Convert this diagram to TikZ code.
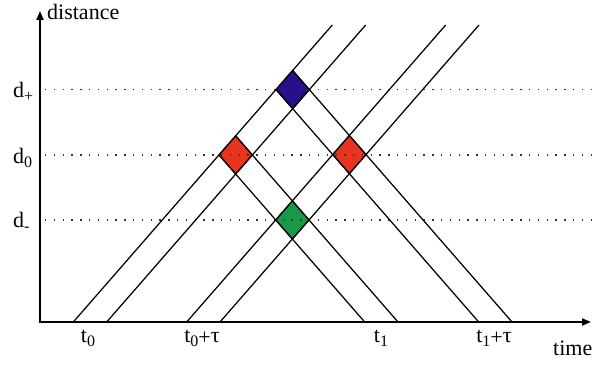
\documentclass[tikz,border=0pt]{standalone}
\usepackage{fontspec}
\setmainfont{Liberation Serif}
\usetikzlibrary{arrows.meta}
\definecolor{cellblue}{HTML}{2B0F8A}
\definecolor{cellred}{HTML}{E8341F}
\definecolor{cellgreen}{HTML}{169A48}
\newcommand{\lowsub}[1]{\raisebox{-4pt}{\fontsize{16}{16}\selectfont #1}}
\begin{document}
\begin{tikzpicture}[x=1pt,y=1pt,
  font=\fontsize{22}{24}\selectfont,
  ray/.style={line width=1.25pt, black},
  axis/.style={line width=1.9pt, {Triangle[length=9pt,width=7pt]}-{Triangle[length=9pt,width=7pt]}},
  level/.style={line width=1.4pt, dash pattern=on 1.4pt off 7.4pt, black!80},
  cell/.style={draw=black, line width=1.1pt},
  lbl/.style={inner sep=0pt}]
\useasboundingbox (0,0) rectangle (593,367);

% rising pulse lines (bases) and falling lines (bases)
\foreach \i/\a in {1/73.3,2/106.7,3/186.7,4/220}{
  \coordinate (r\i b) at (\a,45);
  \coordinate (r\i t) at ({\a+259},342);
}
\foreach \j/\b in {1/364.7,2/398,3/478.7,4/512}{
  \coordinate (f\j b) at (\b,45);
}
\foreach \i/\a in {1/73.3,2/106.7,3/186.7,4/220}{
  \foreach \j/\b in {1/364.7,2/398,3/478.7,4/512}{
    \coordinate (p\i\j) at ({(\a+\b)/2},{45+1.1467*(\b-\a)/2});
  }
}

% coloured cells
\fill[cellred]   (p11) -- (p12) -- (p22) -- (p21) -- cycle;
\fill[cellblue]  (p13) -- (p14) -- (p24) -- (p23) -- cycle;
\fill[cellred]   (p33) -- (p34) -- (p44) -- (p43) -- cycle;
\fill[cellgreen] (p31) -- (p32) -- (p42) -- (p41) -- cycle;

% dotted levels
\coordinate (lp) at (45,277.4);
\coordinate (l0) at (45,212.1);
\coordinate (lm) at (45,147.1);
\foreach \c in {lp,l0,lm}{
  \draw[level] (\c) -- (\c -| 593,0);
}

% lines
\foreach \i in {1,2,3,4}{
  \draw[ray] (r\i b) -- (r\i t);
  \draw[ray] (p1\i) -- (f\i b);
}
\draw[cell] (p11) -- (p12) -- (p22) -- (p21) -- cycle;
\draw[cell] (p13) -- (p14) -- (p24) -- (p23) -- cycle;
\draw[cell] (p33) -- (p34) -- (p44) -- (p43) -- cycle;
\draw[cell] (p31) -- (p32) -- (p42) -- (p41) -- cycle;

% axes
\draw[axis] (40,356) -- (40,45) -- (591,45);

% labels
\node[lbl, anchor=base west] (dist) at (47,347) {distance};
\node[lbl, anchor=base west] (time) at (553,12) {time};
\node[lbl, anchor=base west] (dplus) at (13,269) {d\lowsub{+}};
\node[lbl, anchor=base west] (dzero) at (13,204) {d\lowsub{0}};
\node[lbl, anchor=base west] (dminus) at (13,140) {d\lowsub{-}};
\node[lbl, anchor=base] (t0) at (88,25) {t\lowsub{0}};
\node[lbl, anchor=base] (t0tau) at (202,25) {t\lowsub{0}\raisebox{-2pt}{+}τ};
\node[lbl, anchor=base] (t1) at (381,25) {t\lowsub{1}};
\node[lbl, anchor=base] (t1tau) at (494,25) {t\lowsub{1}\raisebox{-2pt}{+}τ};
\end{tikzpicture}
\end{document}
